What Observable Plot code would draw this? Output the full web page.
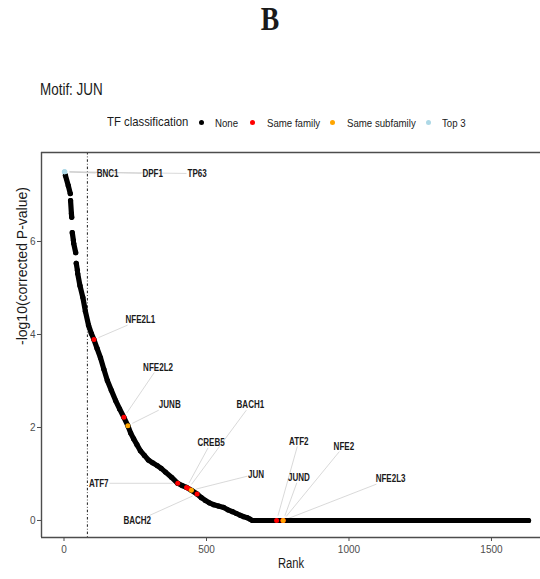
<!DOCTYPE html>
<html>
<head>
<meta charset="utf-8">
<script src="https://cdn.jsdelivr.net/npm/d3@7"></script>
<script src="https://cdn.jsdelivr.net/npm/@observablehq/plot@0.6"></script>
<style>
  html, body { margin: 0; padding: 0; background: #fff; }
  body { width: 540px; height: 579px; position: relative; overflow: hidden;
         font-family: "Liberation Sans", Arial, sans-serif; color: #1a1a1a; }
  .abs { position: absolute; white-space: nowrap; transform-origin: 0 50%; }
  #panelTitle { left: 0; width: 540px; top: 3px; text-align: center; font: bold 33px/33px "Liberation Serif", "Times New Roman", serif; transform: scaleX(0.84); transform-origin: 50% 50%; }
  #motif { left: 40px; top: 81.5px; font-size: 16px; line-height: 16px; transform: scaleX(0.84); }
  #legendTitle { left: 107px; top: 115px; font-size: 13.5px; line-height: 14px; transform: scaleX(0.84); }
  .lg-dot { position: absolute; width: 5px; height: 5px; border-radius: 50%; top: 119.5px; }
  .lg-lab { position: absolute; top: 116.5px; font-size: 11.5px; line-height: 12px; white-space: nowrap; transform: scaleX(0.84); transform-origin: 0 50%; }
  #chart { position: absolute; left: 0; top: 140px; }
</style>
</head>
<body>
<div id="panelTitle" class="abs">B</div>
<div id="motif" class="abs">Motif: JUN</div>
<div id="legendTitle" class="abs">TF classification</div>
<div id="legend"></div>
<div id="chart"></div>
<script>
// ---------- data ----------
// ranked curve (rank, -log10 corrected P), run = contiguous stretch of points
const curveRank  = [5, 15, 22,   23, 26, 27,   29, 33,   34, 41,   43, 47,
  48, 56, 66, 75, 86, 96, 105, 116, 128, 140, 152, 166, 181, 195, 210, 224, 234, 244, 256, 268,
  282, 296, 311, 327, 341, 356, 377, 399, 415, 430, 447, 467, 482, 496, 510, 525, 542, 560,
  575, 591, 605, 619, 631, 643, 652, 661, 900, 1200, 1630];
const curveValue = [7.42, 7.20, 7.03,   6.88, 6.60, 6.52,   6.19, 6.02,   5.96, 5.76,   5.53, 5.38,
  5.31, 5.05, 4.80, 4.50, 4.20, 4.02, 3.89, 3.70, 3.50, 3.25, 3.01, 2.80, 2.58, 2.40, 2.22, 2.04, 1.88, 1.76, 1.63, 1.50,
  1.40, 1.30, 1.24, 1.18, 1.12, 1.04, 0.93, 0.80, 0.75, 0.71, 0.65, 0.57, 0.49, 0.43, 0.38, 0.34, 0.31, 0.28,
  0.23, 0.19, 0.15, 0.11, 0.08, 0.06, 0.03, 0.00, 0.00, 0.00, 0.00];
const curveRun   = [1, 1, 1,   2, 2, 2,   3, 3,   4, 4,   5, 5,
  6, 6, 6, 6, 6, 6, 6, 6, 6, 6, 6, 6, 6, 6, 6, 6, 6, 6, 6, 6,
  6, 6, 6, 6, 6, 6, 6, 6, 6, 6, 6, 6, 6, 6, 6, 6, 6, 6,
  6, 6, 6, 6, 6, 6, 6, 6, 6, 6, 6];

// highlighted transcription factors
const tfName  = ["BNC1", "DPF1", "TP63", "NFE2L1", "NFE2L2", "JUNB", "ATF7", "CREB5", "BACH1", "JUN", "BACH2", "ATF2", "NFE2", "NFE2L3", "JUND"];
const tfRank  = [1, 2, 3, 105, 210, 224, 399, 430, 437, 447, 467, 746, 768, 769, 769];
const tfValue = [7.50, 7.50, 7.50, 3.89, 2.22, 2.04, 0.80, 0.71, 0.69, 0.65, 0.57, 0.00, 0.00, 0.00, 0.00];
const tfClass = ["Top 3", "Top 3", "Top 3", "Same family", "Same family", "Same subfamily", "Same family", "Same family",
  "Same family", "Same subfamily", "Same family", "Same family", "Same family", "Same family", "Same subfamily"];
// repelled label positions (rank, value)
const labRank  = [153, 311, 467, 268, 330, 371, 122, 516, 654, 674, 257, 824, 982, 1146, 824];
const labValue = [7.46, 7.46, 7.46, 4.32, 3.30, 2.49, 0.80, 1.68, 2.49, 1.00, -0.01, 1.71, 1.60, 0.90, 0.93];

const classNames  = ["None", "Same family", "Same subfamily", "Top 3"];
const classColors = ["#000000", "#ff0000", "#ffa500", "#add8e6"];
const cutoffRank = 82;
const xTicks = [0, 500, 1000, 1500];
const yTicks = [0, 2, 4, 6];
const xDomain = [-79, 1672];
const yDomain = [-0.366, 7.914];
const yTitle = "-log10(corrected P-value)";
const xTitle = "Rank";

// ---------- legend ----------
const lgDotX = [199, 250, 329.5, 426];
const lgLabX = [215, 266.7, 346.7, 441.7];
const legend = document.getElementById("legend");
classNames.forEach((c, i) => {
  const d = document.createElement("div");
  d.className = "lg-dot"; d.style.left = lgDotX[i] + "px"; d.style.background = classColors[i];
  legend.appendChild(d);
  const t = document.createElement("div");
  t.className = "lg-lab"; t.style.left = lgLabX[i] + "px"; t.textContent = c;
  legend.appendChild(t);
});

// ---------- tables ----------
const curve = curveRank.map((r, i) => ({rank: r, value: curveValue[i], run: curveRun[i]}));
const tfs = tfName.map((n, i) => ({name: n, rank: tfRank[i], value: tfValue[i], cls: tfClass[i], lx: labRank[i], ly: labValue[i]}));

const W = 540, H = 439, mL = 41, mR = 0, mT = 12, mB = 42;
const LABEL_SQUEEZE = 0.73;
const sx = Plot.scale({x: {type: "linear", domain: xDomain, range: [mL, W - mR]}});
const sy = Plot.scale({y: {type: "linear", domain: yDomain, range: [H - mB, mT]}});
const ctx = document.createElement("canvas").getContext("2d");
ctx.font = "bold 11px 'Liberation Sans', Arial, sans-serif";

// leader segments from label box edge to (near) the point
const segs = [];
tfs.forEach(d => {
  const px = sx.apply(d.rank), py = sy.apply(d.value);
  const cx = sx.apply(d.lx), cy = sy.apply(d.ly);
  const w = ctx.measureText(d.name).width * LABEL_SQUEEZE + 2, h = 11;
  const dx = px - cx, dy = py - cy;
  const tx = dx ? (w / 2) / Math.abs(dx) : Infinity;
  const ty = dy ? (h / 2) / Math.abs(dy) : Infinity;
  const t = Math.min(tx, ty);
  if (t >= 1) return;
  const len = Math.hypot(dx, dy);
  const pad = 5;
  const sxp = cx + t * dx, syp = cy + t * dy;
  const exp = px - dx / len * pad, eyp = py - dy / len * pad;
  if (Math.hypot(exp - sxp, eyp - syp) < 3) return;
  segs.push({x1: sx.invert(sxp), y1: sy.invert(syp), x2: sx.invert(exp), y2: sy.invert(eyp)});
});

const colorOf = Object.fromEntries(classNames.map((c, i) => [c, classColors[i]]));

const plot = Plot.plot({
  width: W, height: H,
  marginLeft: mL, marginRight: mR, marginTop: mT, marginBottom: mB,
  x: {domain: xDomain, axis: null},
  y: {domain: yDomain, axis: null},
  style: {fontFamily: "'Liberation Sans', Arial, sans-serif", background: "white"},
  marks: [
    Plot.ruleX([cutoffRank], {stroke: "#000", strokeWidth: 0.9, strokeDasharray: "2.5,2,0.8,2"}),
    Plot.link(segs, {x1: "x1", y1: "y1", x2: "x2", y2: "y2", stroke: "#c8c8c8", strokeWidth: 0.7}),
    Plot.line(curve, {x: "rank", y: "value", z: "run", stroke: "#000", strokeWidth: 5.2, strokeLinecap: "round", strokeLinejoin: "round"}),
    Plot.dot(curve, {x: "rank", y: "value", r: 2.6, fill: "#000"}),
    Plot.dot(tfs, {x: "rank", y: "value", r: 2.5, fill: d => colorOf[d.cls]}),
    Plot.text(tfs, {x: "lx", y: "ly", text: "name", fontWeight: "bold", fontSize: 11, fill: "#1a1a1a"}),
    // panel border (right edge lies outside the picture)
    Plot.ruleX([xDomain[0]], {stroke: "#4d4d4d", strokeWidth: 1.4}),
    Plot.ruleY([yDomain[1]], {stroke: "#4d4d4d", strokeWidth: 1.4}),
    Plot.ruleY([yDomain[0]], {stroke: "#4d4d4d", strokeWidth: 1.4}),
    Plot.axisX({ticks: xTicks, tickFormat: d => String(d), tickSize: 4, tickPadding: 3, fontSize: 11.5, color: "#4d4d4d", label: null}),
    Plot.axisY({ticks: yTicks, tickFormat: d => String(d), tickSize: 4, tickPadding: 2, fontSize: 11.5, color: "#4d4d4d", label: null}),
    Plot.text([xTitle], {frameAnchor: "bottom", dy: 30, fontSize: 14, fill: "#1a1a1a"}),
    Plot.text([yTitle], {frameAnchor: "left", dx: -19, rotate: -90, fontSize: 14, fill: "#1a1a1a"})
  ]
});
document.getElementById("chart").appendChild(plot);

// horizontal squeeze of the (horizontal) texts, as in the reference picture
const labelSet = new Set(tfName);
plot.querySelectorAll("text").forEach(el => {
  const s = el.textContent;
  if (s === yTitle) return;
  const f = labelSet.has(s) ? LABEL_SQUEEZE : (s === xTitle ? 0.8 : 0.87);
  const L = el.getComputedTextLength();
  if (L > 0) {
    el.setAttribute("textLength", (L * f).toFixed(2));
    el.setAttribute("lengthAdjust", "spacingAndGlyphs");
  }
});
</script>
</body>
</html>
